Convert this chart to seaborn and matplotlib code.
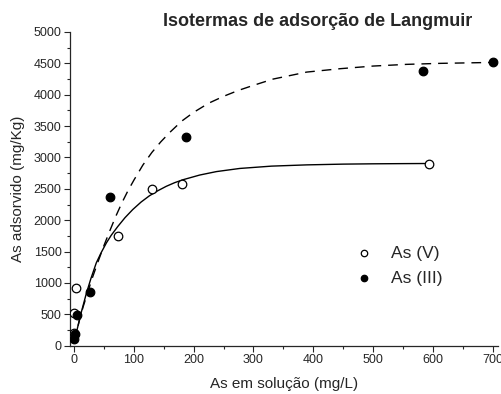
import pandas as pd
import matplotlib.pyplot as plt
import seaborn as sns

# measured points
as5_x = [0.5, 0.3, 3.0, 73, 131, 180, 594]
as5_y = [200, 517, 926, 1741, 2498, 2578, 2903]
as3_x = [0.3, 1.5, 4.7, 26.5, 60, 187, 584, 700]
as3_y = [100, 190, 490, 850, 2371, 3329, 4372, 4521]

# fitted curves
fit5_x = [0, 5, 11, 20, 28, 37, 45, 54, 62, 73, 85, 98, 112, 126, 140, 154,
          168, 182, 210, 238, 277, 330, 389, 450, 500, 550, 594]
fit5_y = [40, 260, 500, 820, 1070, 1320, 1480, 1640, 1760, 1900, 2040, 2170,
          2290, 2390, 2470, 2540, 2598, 2645, 2720, 2775, 2825, 2862, 2882,
          2894, 2899, 2902, 2904]
fit3_x = [0, 5, 10, 15, 20, 30, 40, 50, 60, 70, 80, 90, 100, 115, 130, 145,
          160, 180, 200, 225, 250, 275, 300, 333, 389, 445, 500, 556, 612,
          660, 700]
fit3_y = [60, 260, 450, 620, 770, 1070, 1340, 1600, 1840, 2070, 2280, 2470,
          2640, 2880, 3080, 3250, 3400, 3580, 3720, 3865, 3975, 4070, 4150,
          4250, 4361, 4415, 4457, 4484, 4500, 4508, 4515]

x_ticks = [0, 100, 200, 300, 400, 500, 600, 700]
y_ticks = [0, 500, 1000, 1500, 2000, 2500, 3000, 3500, 4000, 4500, 5000]


def create_plot():
    sns.set_style("ticks")
    plt.rcParams['font.family'] = ['Liberation Sans', 'DejaVu Sans']

    fig = plt.figure(figsize=(5.02, 3.94), dpi=100)
    ax = fig.add_axes([0.1394, 0.1226, 0.8526, 0.7962])

    sns.lineplot(x=fit5_x, y=fit5_y, ax=ax, color='black', linewidth=1.0,
                 sort=False, legend=False)
    sns.lineplot(x=fit3_x, y=fit3_y, ax=ax, color='black', linewidth=1.0,
                 sort=False, legend=False)
    ax.lines[-1].set_dashes([7, 5])

    sns.scatterplot(x=as5_x, y=as5_y, ax=ax, marker='o', s=38,
                    facecolor='white', edgecolor='black', linewidth=0.9,
                    label='As (V)', zorder=3)
    sns.scatterplot(x=as3_x, y=as3_y, ax=ax, marker='o', s=38,
                    color='black', edgecolor='black', linewidth=0.9,
                    label='As (III)', zorder=4)

    ax.set_xlim(-7, 709)
    ax.set_ylim(0, 5000)
    ax.set_xticks(x_ticks)
    ax.set_yticks(y_ticks)
    ax.set_xticks([v + 50 for v in x_ticks[:-1]], minor=True)
    ax.set_yticks([v + 250 for v in y_ticks[:-1]], minor=True)
    ax.tick_params(axis='both', which='major', direction='out', length=4,
                   width=0.8, labelsize=9, pad=2)
    ax.tick_params(axis='both', which='minor', direction='out', length=2.5,
                   width=0.8)
    sns.despine(ax=ax)
    for sp in ['left', 'bottom']:
        ax.spines[sp].set_linewidth(0.9)

    ax.set_xlabel('As em solução (mg/L)', fontsize=11, labelpad=8)
    ax.set_ylabel('As adsorvido (mg/Kg)', fontsize=11, labelpad=6)
    ax.text(0.578, 1.019, 'Isotermas de adsorção de Langmuir',
            transform=ax.transAxes, ha='center', va='baseline',
            fontsize=13, fontweight='bold')

    ax.legend(loc='center left', bbox_to_anchor=(0.625, 0.255),
              frameon=False, fontsize=12.5, handletextpad=1.0,
              labelspacing=0.55, markerscale=0.75, handlelength=1.2)

    fig.savefig('out.png', dpi=100)


if __name__ == "__main__":
    create_plot()
